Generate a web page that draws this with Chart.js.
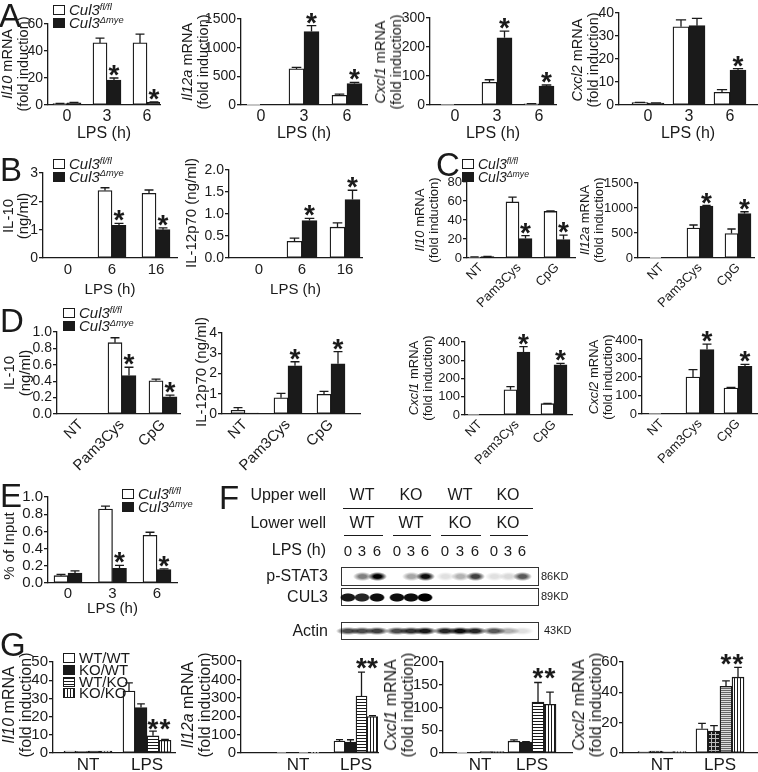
<!DOCTYPE html>
<html lang="en">
<head>
<meta charset="UTF-8">
<title>Cul3 deletion – cytokine induction</title>
<script src="https://cdn.jsdelivr.net/npm/chart.js@4.4.1/dist/chart.umd.min.js"></script>
<style>
  body { margin: 0; background: #fff; }
  #fig { position: relative; width: 758px; height: 772px; overflow: hidden;
         font-family: 'Liberation Sans', Arial, sans-serif; color: #1a1a1a; }
  #fig canvas { position: absolute; }
  .t { position: absolute; white-space: nowrap; }
  .letter { font-size: 33px; line-height: 1; }
  .ytitle { transform: translate(-50%, -50%) rotate(-90deg); text-align: center; }
  .sw { display: inline-block; width: 10px; height: 8px; border: 1.3px solid #1a1a1a;
        margin-right: 4px; vertical-align: 0; box-sizing: content-box; }
  sup { font-size: 62%; vertical-align: 0; position: relative; top: -0.55em; }
  .box { position: absolute; border: 1.3px solid #333; box-sizing: border-box; }
  .band { position: absolute; }
  .rule { position: absolute; height: 0; border-top: 1.4px solid #1a1a1a; }
</style>
</head>
<body>
<div id="fig"></div>
<script>
// ---- data: A, qPCR after LPS ----
const lpsTimes = ['0', '3', '6'];
const aIl10Flox = [1, 46, 46],      aIl10FloxErr = [0.2, 3.5, 6.5];
const aIl10Ko = [1.6, 18.5, 2],     aIl10KoErr = [0.3, 1.5, 0.3],   aIl10Stars = [0, 1, 1];
const aIl12aFlox = [2, 630, 170],   aIl12aFloxErr = [0, 25, 20];
const aIl12aKo = [8, 1280, 375],    aIl12aKoErr = [0, 105, 20],     aIl12aStars = [0, 1, 1];
const aCxcl1Flox = [1, 78, 4],      aCxcl1FloxErr = [0, 9, 1];
const aCxcl1Ko = [1, 232, 65],      aCxcl1KoErr = [0, 23, 4],       aCxcl1Stars = [0, 1, 1];
const aCxcl2Flox = [1, 34, 5.5],    aCxcl2FloxErr = [0.1, 3, 1.2];
const aCxcl2Ko = [0.8, 34.5, 15.2], aCxcl2KoErr = [0.1, 3.2, 0.6],  aCxcl2Stars = [0, 0, 1];

// ---- B, ELISA after LPS ----
const elisaTimes = ['0', '6', '16'];
const bIl10Flox = [0, 2.38, 2.28],  bIl10FloxErr = [0, 0.1, 0.12];
const bIl10Ko = [0, 1.15, 1.0],     bIl10KoErr = [0, 0.07, 0.06],   bIl10Stars = [0, 1, 1];
const bIl12Flox = [0, 0.38, 0.7],   bIl12FloxErr = [0, 0.07, 0.1];
const bIl12Ko = [0, 0.85, 1.33],    bIl12KoErr = [0, 0.05, 0.21],   bIl12Stars = [0, 1, 1];

// ---- C / D, TLR2 and TLR9 ligands ----
const ligands = ['NT', 'Pam3Cys', 'CpG'];
const cIl10Flox = [1, 59, 49],      cIl10FloxErr = [0.2, 5, 0.6];
const cIl10Ko = [1.5, 20.5, 19.5],  cIl10KoErr = [0.2, 3, 4.5],     cIl10Stars = [0, 1, 1];
const cIl12aFlox = [2, 600, 490],   cIl12aFloxErr = [0, 60, 90];
const cIl12aKo = [3, 1040, 890],    cIl12aKoErr = [0, 10, 35],      cIl12aStars = [0, 1, 1];
const cCxcl1Flox = [2, 138, 62],    cCxcl1FloxErr = [0, 17, 2];
const cCxcl1Ko = [4, 345, 275],     cCxcl1KoErr = [0, 30, 8],       cCxcl1Stars = [0, 1, 1];
const cCxcl2Flox = [2, 200, 140],   cCxcl2FloxErr = [0, 40, 4];
const cCxcl2Ko = [2, 348, 258],     cCxcl2KoErr = [0, 30, 10],      cCxcl2Stars = [0, 1, 1];
const dIl10Flox = [0, 0.87, 0.405], dIl10FloxErr = [0, 0.06, 0.02];
const dIl10Ko = [0, 0.47, 0.21],    dIl10KoErr = [0, 0.1, 0.02],    dIl10Stars = [0, 1, 1];
const dIl12Flox = [0.18, 0.8, 0.97], dIl12FloxErr = [0.13, 0.22, 0.15];
const dIl12Ko = [0.05, 2.38, 2.48], dIl12KoErr = [0, 0.2, 0.6],     dIl12Stars = [0, 1, 1];

// ---- E, ChIP ----
const eFlox = [0.085, 0.86, 0.555], eFloxErr = [0.015, 0.035, 0.035];
const eKo = [0.115, 0.17, 0.155],   eKoErr = [0.025, 0.035, 0.01],  eStars = [0, 1, 1];

// ---- G, transwell (upper/lower well) ----
const gTreat = ['NT', 'LPS'];
const gIl10WtWt = [1, 34],    gIl10WtWtErr = [0, 4.5];
const gIl10KoWt = [0.8, 25],  gIl10KoWtErr = [0, 2];
const gIl10WtKo = [1, 9.5],   gIl10WtKoErr = [0, 2.5];
const gIl10KoKo = [1, 7],     gIl10KoKoErr = [0, 0.5];
const gIl12aWtWt = [2, 65],   gIl12aWtWtErr = [0, 8];
const gIl12aKoWt = [2, 60],   gIl12aKoWtErr = [0, 12];
const gIl12aWtKo = [4, 310],  gIl12aWtKoErr = [0, 130];
const gIl12aKoKo = [4, 198],  gIl12aKoKoErr = [0, 5];
const gCxcl1WtWt = [1, 26],   gCxcl1WtWtErr = [0, 3];
const gCxcl1KoWt = [1, 24],   gCxcl1KoWtErr = [0, 1];
const gCxcl1WtKo = [3, 112],  gCxcl1WtKoErr = [0, 43];
const gCxcl1KoKo = [3, 107],  gCxcl1KoKoErr = [0, 27];
const gCxcl2WtWt = [1, 16],   gCxcl2WtWtErr = [0, 3.5];
const gCxcl2KoWt = [1.2, 14.5], gCxcl2KoWtErr = [0, 3.5];
const gCxcl2WtKo = [1, 44],   gCxcl2WtKoErr = [0, 3.5];
const gCxcl2KoKo = [1, 50],   gCxcl2KoKoErr = [0, 6.5];
const gStars = [0, 1];

// ---- F, western blot band strength per lane ----
const blotLanes = ['0', '3', '6', '0', '3', '6', '0', '3', '6', '0', '3', '6'];
const pStat3Bands = [0, 0.5, 1, 0, 0.35, 0.95, 0.12, 0.3, 0.75, 0.12, 0.15, 0.65];
const cul3Bands = [0.9, 0.85, 0.95, 0.95, 0.95, 1, 0, 0, 0, 0, 0, 0];
const actinBands = [0.7, 0.7, 0.75, 0.7, 0.8, 0.9, 0.85, 0.95, 0.85, 0.65, 0.3, 0.12];

const INK = '#1a1a1a';
const fig = document.getElementById('fig');
Chart.defaults.font.family = "'Liberation Sans', Arial, sans-serif";
Chart.defaults.color = INK;

function stripes(vertical, fg, bg, period) {
  const c = document.createElement('canvas');
  c.width = c.height = period;
  const g = c.getContext('2d');
  g.fillStyle = bg; g.fillRect(0, 0, period, period);
  g.fillStyle = fg;
  if (vertical) g.fillRect(0, 0, 1, period); else g.fillRect(0, 0, period, 1);
  return g.createPattern(c, 'repeat');
}
function gridPattern() {
  const c = document.createElement('canvas');
  c.width = c.height = 4;
  const g = c.getContext('2d');
  g.fillStyle = INK; g.fillRect(0, 0, 4, 4);
  g.fillStyle = '#bbb'; g.fillRect(0, 0, 4, 1); g.fillRect(0, 0, 1, 4);
  return g.createPattern(c, 'repeat');
}
const STYLES = {
  open:  { backgroundColor: '#fff', borderColor: INK },
  solid: { backgroundColor: INK, borderColor: INK },
  hline: { backgroundColor: stripes(false, INK, '#fff', 3), borderColor: INK },
  vline: { backgroundColor: stripes(true, INK, '#fff', 3), borderColor: INK },
  grid:  { backgroundColor: gridPattern(), borderColor: INK },
  gray:  { backgroundColor: stripes(false, '#666', '#ddd', 2), borderColor: INK }
};

// error bars (upper half only) and significance stars
const errorBars = {
  id: 'errorBars',
  afterDatasetsDraw(chart, args, opts) {
    const ctx = chart.ctx, ys = chart.scales.y;
    ctx.save();
    ctx.strokeStyle = INK;
    ctx.fillStyle = INK;
    ctx.lineWidth = 1.3;
    chart.data.datasets.forEach((ds, di) => {
      chart.getDatasetMeta(di).data.forEach((bar, i) => {
        const v = ds.data[i].y, e = ds.err ? ds.err[i] : 0;
        let top = bar.y;
        if (e > 0) {
          top = ys.getPixelForValue(v + e);
          const half = bar.width * 0.32;
          ctx.beginPath();
          ctx.moveTo(bar.x, bar.y); ctx.lineTo(bar.x, top);
          ctx.moveTo(bar.x - half, top); ctx.lineTo(bar.x + half, top);
          ctx.stroke();
        }
        if (ds.stars && ds.stars[i]) {
          const cy = opts.starLevel != null ? ys.getPixelForValue(opts.starLevel) : top - 10;
          ctx.font = "bold 28px 'Liberation Sans', Arial, sans-serif";
          ctx.textAlign = 'center';
          ctx.textBaseline = 'alphabetic';
          ctx.fillText('*', bar.x, cy + 16);
        }
      });
    });
    ctx.restore();
  }
};

function drawChart(c) {
  const W = c.box.r - c.box.l, H = c.box.b - c.box.t;
  const PL = 4, PR = 14, PT = 16, YW = 44;
  const cv = document.createElement('canvas');
  cv.width = PL + YW + W + PR;
  cv.height = PT + H + c.xh;
  cv.style.left = (c.box.l - YW - PL) + 'px';
  cv.style.top = (c.box.t - PT) + 'px';
  fig.appendChild(cv);
  const xMin = -(c.cat.f - c.box.l) / c.cat.s;
  const xMax = xMin + W / c.cat.s;
  new Chart(cv, {
    type: 'bar',
    data: {
      datasets: c.sets.map(s => Object.assign({
        data: s[1].map((v, i) => ({ x: i, y: v })),
        err: s[2], stars: s[3],
        borderWidth: 1.3, borderSkipped: false, barThickness: c.bar
      }, STYLES[s[0]]))
    },
    options: {
      responsive: false, animation: false, devicePixelRatio: 1,
      layout: { padding: { left: PL, right: PR, top: PT, bottom: 0 } },
      plugins: { legend: { display: false }, tooltip: { enabled: false },
                 errorBars: { starLevel: c.starLevel } },
      scales: {
        x: {
          type: 'linear', min: xMin, max: xMax, bounds: 'data', offset: false,
          afterBuildTicks: s => { s.ticks = c.labels.map((_, i) => ({ value: i })); },
          afterFit: s => { s.height = c.xh; },
          ticks: { callback: v => c.labels[v], autoSkip: false,
                   maxRotation: c.rot || 0, minRotation: c.rot || 0,
                   padding: c.xpad, font: { size: c.xf }, color: INK },
          grid: { display: false, drawTicks: false, offset: false },
          border: { color: INK, width: 1.3 },
          title: c.xTitle
            ? { display: true, text: c.xTitle, font: { size: c.xf }, color: INK, padding: { top: 0, bottom: 0 } }
            : { display: false }
        },
        y: {
          min: 0, max: c.yMax,
          afterFit: s => { s.width = YW; },
          ticks: { stepSize: c.yStep, callback: v => v.toFixed(c.dec || 0), autoSkip: false,
                   font: { size: c.yf }, color: INK, padding: 1 },
          grid: { drawOnChartArea: false, drawTicks: true, tickLength: 4, color: INK, lineWidth: 1.3 },
          border: { color: INK, width: 1.3 }
        }
      }
    },
    plugins: [errorBars]
  });
}

const A = { labels: lpsTimes, yf: 14, xf: 16, xpad: 2, xh: 38, xTitle: 'LPS (h)' };
const B = { labels: elisaTimes, yf: 14, xf: 15, xpad: 3, xh: 41, xTitle: 'LPS (h)' };
const C = { labels: ligands, yf: 13, xf: 13, xpad: 2, xh: 60, rot: 45 };
const D = { labels: ligands, yf: 14, xf: 15, xpad: 2, xh: 60, rot: 45 };
const G = { labels: gTreat, yf: 15, xf: 17, xpad: 2, xh: 22 };

const charts = [
  Object.assign({}, A, { sets: [['open', aIl10Flox, aIl10FloxErr], ['solid', aIl10Ko, aIl10KoErr, aIl10Stars]],
    box: { l: 48, r: 160, t: 24, b: 105 }, cat: { f: 67, s: 40 }, bar: 14, yMax: 60, yStep: 20 }),
  Object.assign({}, A, { sets: [['open', aIl12aFlox, aIl12aFloxErr], ['solid', aIl12aKo, aIl12aKoErr, aIl12aStars]],
    box: { l: 241, r: 367, t: 19, b: 105 }, cat: { f: 261, s: 43 }, bar: 15, yMax: 1500, yStep: 500 }),
  Object.assign({}, A, { sets: [['open', aCxcl1Flox, aCxcl1FloxErr], ['solid', aCxcl1Ko, aCxcl1KoErr, aCxcl1Stars]],
    box: { l: 430, r: 556, t: 18, b: 105 }, cat: { f: 455, s: 42 }, bar: 15, yMax: 300, yStep: 100 }),
  Object.assign({}, A, { sets: [['open', aCxcl2Flox, aCxcl2FloxErr], ['solid', aCxcl2Ko, aCxcl2KoErr, aCxcl2Stars]],
    box: { l: 619, r: 757, t: 13, b: 105 }, cat: { f: 648, s: 41 }, bar: 16, yMax: 40, yStep: 10 }),

  Object.assign({}, B, { sets: [['open', bIl10Flox, bIl10FloxErr], ['solid', bIl10Ko, bIl10KoErr, bIl10Stars]],
    box: { l: 43, r: 177, t: 173, b: 258 }, cat: { f: 68, s: 44 }, bar: 14, yMax: 3, yStep: 1 }),
  Object.assign({}, B, { sets: [['open', bIl12Flox, bIl12FloxErr], ['solid', bIl12Ko, bIl12KoErr, bIl12Stars]],
    box: { l: 229, r: 362, t: 170, b: 258 }, cat: { f: 259, s: 43 }, bar: 15, yMax: 2, yStep: 0.5, dec: 1 }),

  Object.assign({}, C, { sets: [['open', cIl10Flox, cIl10FloxErr], ['solid', cIl10Ko, cIl10KoErr, cIl10Stars]],
    box: { l: 467, r: 575, t: 182, b: 258 }, cat: { f: 481, s: 38 }, bar: 13, yMax: 80, yStep: 20 }),
  Object.assign({}, C, { sets: [['open', cIl12aFlox, cIl12aFloxErr], ['solid', cIl12aKo, cIl12aKoErr, cIl12aStars]],
    box: { l: 638, r: 754, t: 183, b: 258 }, cat: { f: 662, s: 38 }, bar: 13, yMax: 1500, yStep: 500 }),
  Object.assign({}, C, { sets: [['open', cCxcl1Flox, cCxcl1FloxErr], ['solid', cCxcl1Ko, cCxcl1KoErr, cCxcl1Stars]],
    box: { l: 465, r: 572, t: 342, b: 415 }, cat: { f: 480, s: 37 }, bar: 13, yMax: 400, yStep: 100 }),
  Object.assign({}, C, { sets: [['open', cCxcl2Flox, cCxcl2FloxErr], ['solid', cCxcl2Ko, cCxcl2KoErr, cCxcl2Stars]],
    box: { l: 642, r: 757, t: 340, b: 414 }, cat: { f: 662, s: 38 }, bar: 14, yMax: 400, yStep: 100 }),

  Object.assign({}, D, { sets: [['open', dIl10Flox, dIl10FloxErr], ['solid', dIl10Ko, dIl10KoErr, dIl10Stars]],
    box: { l: 57, r: 180, t: 332, b: 414 }, cat: { f: 81, s: 41 }, bar: 14, yMax: 1, yStep: 0.2, dec: 1 }),
  Object.assign({}, D, { sets: [['open', dIl12Flox, dIl12FloxErr], ['solid', dIl12Ko, dIl12KoErr, dIl12Stars]],
    box: { l: 222, r: 360, t: 333, b: 414 }, cat: { f: 245, s: 43 }, bar: 14, yMax: 4, yStep: 1 }),

  { labels: lpsTimes, yf: 15, xf: 15, xpad: 2, xh: 35, xTitle: 'LPS (h)',
    sets: [['open', eFlox, eFloxErr], ['solid', eKo, eKoErr, eStars]],
    box: { l: 48, r: 177, t: 497, b: 583 }, cat: { f: 68, s: 44.5 }, bar: 14, yMax: 1, yStep: 0.2, dec: 1 },

  Object.assign({}, G, { sets: [['open', gIl10WtWt, gIl10WtWtErr], ['solid', gIl10KoWt, gIl10KoWtErr],
      ['hline', gIl10WtKo, gIl10WtKoErr, gStars], ['vline', gIl10KoKo, gIl10KoKoErr, gStars]],
    box: { l: 53, r: 175, t: 662, b: 753 }, cat: { f: 88, s: 59 }, bar: 12, yMax: 50, yStep: 10, starLevel: 17 }),
  Object.assign({}, G, { sets: [['open', gIl12aWtWt, gIl12aWtWtErr], ['solid', gIl12aKoWt, gIl12aKoWtErr],
      ['hline', gIl12aWtKo, gIl12aWtKoErr, gStars], ['vline', gIl12aKoKo, gIl12aKoKoErr, gStars]],
    box: { l: 241, r: 378, t: 661, b: 753 }, cat: { f: 298, s: 58 }, bar: 11, yMax: 500, yStep: 100, starLevel: 500 }),
  Object.assign({}, G, { sets: [['open', gCxcl1WtWt, gCxcl1WtWtErr], ['solid', gCxcl1KoWt, gCxcl1KoWtErr],
      ['hline', gCxcl1WtKo, gCxcl1WtKoErr, gStars], ['vline', gCxcl1KoKo, gCxcl1KoKoErr, gStars]],
    box: { l: 443, r: 572, t: 662, b: 753 }, cat: { f: 480, s: 52 }, bar: 12, yMax: 200, yStep: 50, starLevel: 180 }),
  Object.assign({}, G, { sets: [['open', gCxcl2WtWt, gCxcl2WtWtErr], ['grid', gCxcl2KoWt, gCxcl2KoWtErr],
      ['gray', gCxcl2WtKo, gCxcl2WtKoErr, gStars], ['vline', gCxcl2KoKo, gCxcl2KoKoErr, gStars]],
    box: { l: 623, r: 757, t: 662, b: 753 }, cat: { f: 662, s: 58 }, bar: 12, yMax: 60, yStep: 20, starLevel: 63 })
];
charts.forEach(drawChart);

// ---- text overlays ----
function text(html, x, y, css) {
  const d = document.createElement('div');
  d.className = 't';
  d.innerHTML = html;
  Object.assign(d.style, { left: x + 'px', top: y + 'px' }, css || {});
  fig.appendChild(d);
  return d;
}
function ytitle(lines, cx, cy, size, lh) {
  const d = text(lines.join('<br>'), cx, cy, { fontSize: size + 'px', lineHeight: lh + 'px' });
  d.classList.add('ytitle');
}
[['A', -1, -1], ['B', 0, 153], ['C', 436, 148], ['D', 0, 304], ['E', 0, 479], ['F', 219, 481], ['G', 0, 628]]
  .forEach(([l, x, y]) => text(l, x, y).classList.add('letter'));

const fold = '(fold induction)';
ytitle(['<i>Il10</i> mRNA', fold], 15, 64, 14.5, 16);
ytitle(['<i>Il12a</i> mRNA', fold], 195, 62, 14.5, 16);
ytitle(['<i>Cxcl1</i> mRNA', fold], 388, 62, 14.5, 16);
ytitle(['<i>Cxcl2</i> mRNA', fold], 585, 60, 14.5, 16);
ytitle(['IL-10', '(ng/ml)'], 15, 216, 15, 15);
ytitle(['IL-12p70 (ng/ml)'], 190, 213, 15, 15);
ytitle(['<i>Il10</i> mRNA', fold], 427, 220, 13, 14);
ytitle(['<i>Il12a</i> mRNA', fold], 592, 220, 13, 14);
ytitle(['<i>Cxcl1</i> mRNA', fold], 421, 378, 13, 14);
ytitle(['<i>Cxcl2</i> mRNA', fold], 601, 377, 13, 14);
ytitle(['IL-10', '(ng/ml)'], 17, 373, 15, 16);
ytitle(['IL-12p70 (ng/ml)'], 200, 372, 15, 15);
ytitle(['% of Input'], 8, 546, 15, 15);
ytitle(['<i>Il10</i> mRNA', fold], 17, 705, 16, 17);
ytitle(['<i>Il12a</i> mRNA', fold], 196, 705, 16, 17);
ytitle(['<i>Cxcl1</i> mRNA', fold], 399, 705, 16, 17);
ytitle(['<i>Cxcl2</i> mRNA', fold], 587, 705, 16, 17);

// legends
const genoLegend = [['open', '<i>Cul3</i><sup><i>fl/fl</i></sup>'], ['solid', '<i>Cul3</i><sup><i>&Delta;mye</i></sup>']];
const wellLegend = [['open', 'WT/WT'], ['solid', 'KO/WT'], ['hline', 'WT/KO'], ['vline', 'KO/KO']];
const SWATCH = {
  open: '#fff', solid: INK,
  hline: 'repeating-linear-gradient(180deg, #1a1a1a 0 1px, #fff 1px 3px)',
  vline: 'repeating-linear-gradient(90deg, #1a1a1a 0 1px, #fff 1px 3px)'
};
function legend(items, x, y0, step, size) {
  items.forEach(([kind, label], i) => {
    text('<span class="sw" style="background:' + SWATCH[kind] + '"></span>' + label,
         x, y0 + i * step - 8, { fontSize: size + 'px', lineHeight: '16px' });
  });
}
legend(genoLegend, 53, 10, 13, 15);
legend(genoLegend, 53, 164, 12.5, 15);
legend(genoLegend, 462, 164, 12.5, 14);
legend(genoLegend, 63, 313, 13, 15);
legend(genoLegend, 122, 494, 13, 15);
legend(wellLegend, 63, 658, 11.8, 15);

// ---- F: western blot ----
const laneX = [348, 362, 377, 397, 411, 425, 445, 460, 475, 494, 508, 522];
function rightText(html, xr, cy, size) {
  text(html, xr, cy, { fontSize: size + 'px', transform: 'translate(-100%, -50%)' });
}
function centerText(html, cx, cy, size) {
  text(html, cx, cy, { fontSize: size + 'px', transform: 'translate(-50%, -50%)' });
}
rightText('Upper well', 326, 495, 16);
rightText('Lower well', 326, 523, 16);
rightText('LPS (h)', 326, 550, 16);
rightText('p-STAT3', 328, 576, 16);
rightText('CUL3', 328, 597, 16);
rightText('Actin', 328, 631, 16);
['WT', 'KO', 'WT', 'KO'].forEach((l, g) => centerText(l, laneX[g * 3 + 1], 495, 16));
['WT', 'WT', 'KO', 'KO'].forEach((l, g) => centerText(l, laneX[g * 3 + 1], 523, 16));
blotLanes.forEach((l, i) => centerText(l, laneX[i], 550, 15));
const r1 = document.createElement('div');
r1.className = 'rule';
Object.assign(r1.style, { left: '343px', top: '508px', width: '190px' });
fig.appendChild(r1);
[0, 1, 2, 3].forEach(g => {
  const r = document.createElement('div');
  r.className = 'rule';
  Object.assign(r.style, { left: (laneX[g * 3] - 4) + 'px', top: '535px', width: (laneX[g * 3 + 2] - laneX[g * 3] + 10) + 'px' });
  fig.appendChild(r);
});
function blot(bands, top, h, bw, bh, core) {
  const b = document.createElement('div');
  b.className = 'box';
  Object.assign(b.style, { left: '341px', top: top + 'px', width: '198px', height: h + 'px' });
  fig.appendChild(b);
  bands.forEach((a, i) => {
    if (!a) return;
    const d = document.createElement('div');
    d.className = 'band';
    const col = 'rgba(0,0,0,' + a + ')';
    Object.assign(d.style, {
      left: (laneX[i] - bw / 2) + 'px', top: (top + h / 2 - bh / 2) + 'px',
      width: bw + 'px', height: bh + 'px',
      background: 'radial-gradient(ellipse closest-side, ' + col + ' 0%, ' + col + ' ' + core + '%, rgba(0,0,0,0) 100%)'
    });
    fig.appendChild(d);
  });
}
blot(pStat3Bands, 567, 19, 19, 9, 40);
blot(cul3Bands, 588, 18, 16, 9, 80);
blot(actinBands, 622, 18, 24, 8, 40);
text('86KD', 541, 570, { fontSize: '11px' });
text('89KD', 541, 590, { fontSize: '11px' });
text('43KD', 544, 624, { fontSize: '11px' });
</script>
</body>
</html>
